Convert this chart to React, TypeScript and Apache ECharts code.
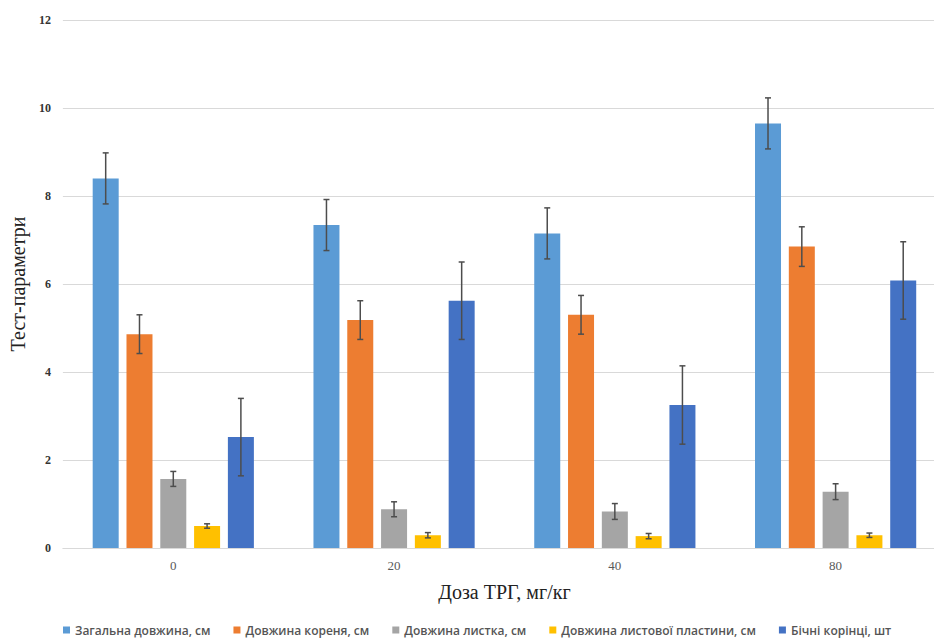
import React, { useEffect, useRef } from "react";
import * as echarts from "echarts";

const categories = ["0", "20", "40", "80"];
const seriesNames = [
  "Загальна довжина, см",
  "Довжина кореня, см",
  "Довжина листка, см",
  "Довжина листової пластини, см",
  "Бічні корінці, шт",
];
const totalLength = [8.4, 7.34, 7.15, 9.65];
const rootLength = [4.86, 5.18, 5.3, 6.85];
const leafLength = [1.57, 0.88, 0.83, 1.28];
const bladeLength = [0.5, 0.29, 0.27, 0.29];
const lateralRoots = [2.52, 5.62, 3.25, 6.08];

const totalLengthErr = [0.58, 0.58, 0.58, 0.58];
const rootLengthErr = [0.44, 0.44, 0.44, 0.45];
const leafLengthErr = [0.17, 0.17, 0.18, 0.18];
const bladeLengthErr = [0.05, 0.06, 0.06, 0.05];
const lateralRootsErr = [0.88, 0.88, 0.89, 0.88];

const yTicks = { min: 0, max: 12, interval: 2 };

const colors = ["#5B9BD5", "#ED7D31", "#A5A5A5", "#FFC000", "#4472C4"];

export default function App() {
  const ref = useRef<HTMLDivElement>(null);
  useEffect(() => {
    if (!ref.current) return;
    const chart = echarts.init(ref.current, undefined, { renderer: "svg" });
    const means = [totalLength, rootLength, leafLength, bladeLength, lateralRoots];
    const errs = [totalLengthErr, rootLengthErr, leafLengthErr, bladeLengthErr, lateralRootsErr];
    const BAR_W = 26;
    const GAP_RATIO = 0.3;
    const GAP = BAR_W * GAP_RATIO;
    const nS = means.length;

    const barSeries = means.map((d, i) => ({
      name: seriesNames[i],
      type: "bar",
      data: d,
      barWidth: BAR_W,
      barGap: GAP_RATIO * 100 + "%",
      itemStyle: { color: colors[i] },
      z: 2,
    }));

    const errSeries = means.map((d, s) => ({
      name: "err" + s,
      type: "custom",
      z: 5,
      data: d.map((v, c) => [c, v, errs[s][c]]),
      encode: { x: 0, y: 1 },
      renderItem: (params: any, api: any) => {
        const cat = api.value(0);
        const val = api.value(1);
        const err = api.value(2);
        const total = BAR_W * nS + GAP * (nS - 1);
        const center = api.coord([cat, val]);
        const x = center[0] - total / 2 + BAR_W / 2 + s * (BAR_W + GAP);
        const hi = api.coord([cat, val + err])[1];
        const lo = api.coord([cat, val - err])[1];
        const cap = 3;
        const style = { stroke: "#4d4d4d", lineWidth: 1.5 };
        return {
          type: "group",
          children: [
            { type: "line", shape: { x1: x, y1: hi, x2: x, y2: lo }, style },
            { type: "line", shape: { x1: x - cap, y1: hi, x2: x + cap, y2: hi }, style },
            { type: "line", shape: { x1: x - cap, y1: lo, x2: x + cap, y2: lo }, style },
          ],
        };
      },
    }));

    chart.setOption({
      animation: false,
      backgroundColor: "#ffffff",
      grid: { left: 62, right: 0, top: 20, bottom: 94 },
      legend: {
        data: seriesNames,
        bottom: 1,
        left: 58,
        itemWidth: 7,
        itemHeight: 7,
        itemGap: 23,
        icon: "rect",
        textStyle: {
          fontFamily: "Open Sans",
          fontSize: 12,
          fontWeight: 600,
          color: "#555555",
        },
      },
      xAxis: {
        type: "category",
        data: categories,
        name: "Доза ТРГ, мг/кг",
        nameLocation: "middle",
        nameGap: 34,
        nameTextStyle: { fontFamily: "Liberation Serif", fontSize: 20, color: "#222" },
        axisLine: { lineStyle: { color: "#d9d9d9" } },
        axisTick: { show: false },
        axisLabel: {
          fontFamily: "Liberation Serif",
          fontSize: 13,
          color: "#595959",
          margin: 11,
        },
      },
      yAxis: {
        type: "value",
        min: yTicks.min,
        max: yTicks.max,
        interval: yTicks.interval,
        name: "Тест-параметри",
        nameLocation: "middle",
        nameGap: 34,
        nameTextStyle: { fontFamily: "Liberation Serif", fontSize: 20, color: "#222" },
        axisLine: { show: false },
        axisTick: { show: false },
        splitLine: { lineStyle: { color: "#d9d9d9", width: 1 } },
        axisLabel: {
          fontFamily: "Liberation Serif",
          fontSize: 12,
          fontWeight: "bold",
          color: "#333",
          margin: 12,
        },
      },
      series: [...barSeries, ...errSeries],
    });
    return () => chart.dispose();
  }, []);
  return (
    <div
      style={{
        position: "fixed",
        left: 0,
        top: 0,
        width: 934,
        height: 642,
        overflow: "hidden",
        background: "#fff",
      }}
    >
      <div ref={ref} style={{ width: 946, height: 642 }} />
    </div>
  );
}
